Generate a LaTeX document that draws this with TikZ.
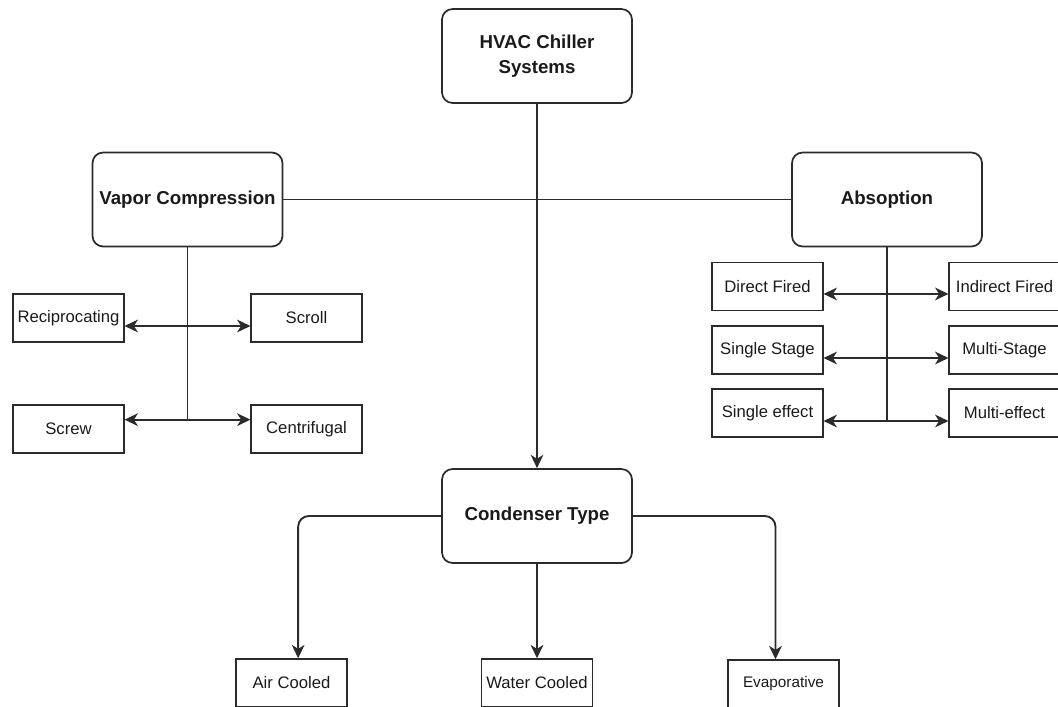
\documentclass[tikz,border=0pt]{standalone}
\usepackage{fontspec}
\setmainfont{Liberation Sans}
\usepackage{xcolor}
\definecolor{linegray}{HTML}{2B2B2B}
\definecolor{textgray}{HTML}{1A1A1A}
\usetikzlibrary{arrows.meta}

\begin{document}
\begin{tikzpicture}[
        x=0.75pt, y=-0.75pt,
        topbox/.style={draw=linegray, line width=1.3pt, rounded corners=8pt, minimum width=142.5pt, minimum height=70.5pt, align=center, text=textgray, font=\fontsize{14}{19}\selectfont\bfseries},
        leafbox/.style={draw=linegray, line width=1.1pt, minimum width=83pt, minimum height=36pt, inner sep=1pt, text=textgray, font=\fontsize{12.5}{15}\selectfont},
        link/.style={line width=1.4pt, draw=linegray},
        arrowlink/.style={link, -{Stealth[length=10pt, width=9.5pt, inset=3pt]}},
        twoway/.style={link, {Stealth[length=10pt, width=9.5pt, inset=3pt]}-{Stealth[length=10pt, width=9.5pt, inset=3pt]}}
    ]
        \useasboundingbox (0,0) rectangle (1058,707);

        % Main boxes
        \node[topbox] (hvac) at (537,56) {HVAC Chiller\\Systems};
        \node[topbox] (vapor) at (187.5,199.5) {Vapor Compression};
        \node[topbox] (absorp) at (887,199.5) {Absoption};
        \node[topbox] (cond) at (537,516) {Condenser Type};

        % Vapor compression types
        \node[leafbox] (recip) at (68.5,318) {Reciprocating};
        \node[leafbox] (scroll) at (306.5,318) {Scroll};
        \node[leafbox] (screw) at (68.5,429) {Screw};
        \node[leafbox] (centri) at (306.5,429) {Centrifugal};

        % Absorption types
        \node[leafbox] (direct) at (767.5,286.5) {Direct Fired};
        \node[leafbox] (indirect) at (1004.5,286.5) {Indirect Fired};
        \node[leafbox] (sstage) at (767.5,350) {Single Stage};
        \node[leafbox] (mstage) at (1004.5,350) {Multi-Stage};
        \node[leafbox] (seffect) at (767.5,413) {Single effect};
        \node[leafbox] (meffect) at (1004.5,413) {Multi-effect};

        % Condenser types
        \node[leafbox] (air) at (291.5,683) {Air Cooled};
        \node[leafbox] (water) at (537,683) {Water Cooled};
        \node[leafbox, font=\fontsize{11.5}{14}\selectfont] (evap) at (783.5,684) {Evaporative};

        % Trunk ends
        \coordinate (vend) at (187.5,420);
        \coordinate (aend) at (887,421);

        % Trunk lines
        \draw[link] (vapor.east) -- (absorp.west);
        \draw[arrowlink] (hvac.south) -- (cond.north);
        \draw[link] (vapor.south) -- (vend);
        \draw[link] (absorp.south) -- (aend);

        % Two-way branches
        \draw[twoway] ([yshift=-6pt]recip.east) -- ([yshift=-6pt]scroll.west);
        \draw[twoway] ([yshift=7pt]screw.east) -- ([yshift=7pt]centri.west);
        \draw[twoway] ([yshift=-5.6pt]direct.east) -- ([yshift=-5.6pt]indirect.west);
        \draw[twoway] ([yshift=-6pt]sstage.east) -- ([yshift=-6pt]mstage.west);
        \draw[twoway] ([yshift=-6pt]seffect.east) -- ([yshift=-6pt]meffect.west);

        % Condenser branches
        \draw[arrowlink, rounded corners=8pt] (cond.west) -| ([xshift=5pt]air.north);
        \draw[arrowlink] (cond.south) -- (water.north);
        \draw[arrowlink, rounded corners=8pt] (cond.east) -| ([xshift=-6pt]evap.north);

    \end{tikzpicture}
\end{document}
